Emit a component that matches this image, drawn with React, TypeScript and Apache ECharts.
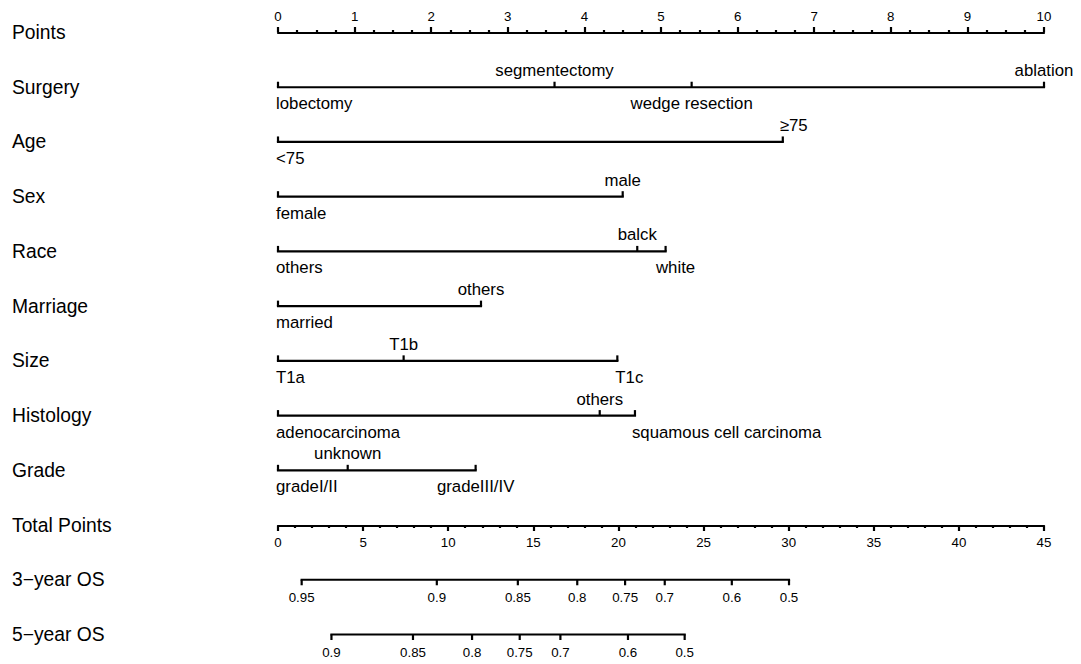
import React, { useEffect, useRef } from "react";
import * as echarts from "echarts";

// ---- data ----
const rowTitles = [
  "Points", "Surgery", "Age", "Sex", "Race", "Marriage", "Size",
  "Histology", "Grade", "Total Points", "3\u2212year OS", "5\u2212year OS",
];

const pointsMax = 10;
const totalPointsMax = 45;

const surgeryLevels = ["lobectomy", "segmentectomy", "wedge resection", "ablation"];
const surgeryPoints = [0, 3.61, 5.4, 10];
const ageLevels = ["<75", "\u226575"];
const agePoints = [0, 6.59];
const sexLevels = ["female", "male"];
const sexPoints = [0, 4.5];
const raceLevels = ["others", "balck", "white"];
const racePoints = [0, 4.69, 5.06];
const marriageLevels = ["married", "others"];
const marriagePoints = [0, 2.65];
const sizeLevels = ["T1a", "T1b", "T1c"];
const sizePoints = [0, 1.64, 4.43];
const histologyLevels = ["adenocarcinoma", "others", "squamous cell carcinoma"];
const histologyPoints = [0, 4.2, 4.66];
const gradeLevels = ["gradeI/II", "unknown", "gradeIII/IV"];
const gradePoints = [0, 0.91, 2.58];

const os3Labels = ["0.95", "0.9", "0.85", "0.8", "0.75", "0.7", "0.6", "0.5"];
const os3TotalPoints = [1.39, 9.33, 14.09, 17.58, 20.39, 22.72, 26.66, 30.02];
const os5Labels = ["0.9", "0.85", "0.8", "0.75", "0.7", "0.6", "0.5"];
const os5TotalPoints = [3.14, 7.93, 11.4, 14.2, 16.59, 20.56, 23.89];

// ---- structure (built from the arrays above) ----
const variables = [
  { row: 1, levels: surgeryLevels, points: surgeryPoints },
  { row: 2, levels: ageLevels, points: agePoints },
  { row: 3, levels: sexLevels, points: sexPoints },
  { row: 4, levels: raceLevels, points: racePoints },
  { row: 5, levels: marriageLevels, points: marriagePoints },
  { row: 6, levels: sizeLevels, points: sizePoints },
  { row: 7, levels: histologyLevels, points: histologyPoints },
  { row: 8, levels: gradeLevels, points: gradePoints },
];
const survivalRows = [
  { row: 10, labels: os3Labels, points: os3TotalPoints },
  { row: 11, labels: os5Labels, points: os5TotalPoints },
];

// ---- styles ----
const FONT = '"Liberation Sans", Arial, Helvetica, sans-serif';
const INK = "#000";
const LW = 2.2;
// label anchoring style: default first label left-aligned, others centered
const labelStyleOverrides: Record<string, { align: string; dx: number }> = {
  "6|T1c": { align: "left", dx: -2 },
  "7|squamous cell carcinoma": { align: "left", dx: -3 },
  "4|white": { align: "center", dx: 10 },
  "2|\u226575": { align: "left", dx: -3 },
};

function labelAnchor(row: number, label: string, i: number) {
  const o = labelStyleOverrides[row + "|" + label];
  if (o) return o;
  if (i === 0) return { align: "left", dx: -2 };
  return { align: "center", dx: 0 };
}

function renderVariable(params: any, api: any) {
  const v = variables[params.dataIndex];
  const lo = api.coord([Math.min(...v.points), v.row]);
  const hi = api.coord([Math.max(...v.points), v.row]);
  const children: any[] = [
    {
      type: "line",
      shape: { x1: lo[0], y1: lo[1], x2: hi[0], y2: hi[1] },
      style: { stroke: INK, lineWidth: LW, lineCap: "square" },
    },
  ];
  v.points.forEach((pt, i) => {
    const c = api.coord([pt, v.row]);
    children.push({
      type: "line",
      shape: { x1: c[0], y1: c[1], x2: c[0], y2: c[1] - 5.5 },
      style: { stroke: INK, lineWidth: LW },
    });
    const above = i % 2 === 1;
    const a = labelAnchor(v.row, v.levels[i], i);
    children.push({
      type: "text",
      x: c[0] + a.dx,
      y: above ? c[1] - 8 : c[1] + 8,
      style: {
        text: v.levels[i],
        fill: INK,
        fontSize: 16.8,
        fontFamily: FONT,
        align: a.align,
        verticalAlign: above ? "bottom" : "top",
      },
    });
  });
  return { type: "group", children };
}

function renderSurvival(params: any, api: any) {
  const s = survivalRows[params.dataIndex];
  const lo = api.coord([Math.min(...s.points), s.row]);
  const hi = api.coord([Math.max(...s.points), s.row]);
  const children: any[] = [
    {
      type: "line",
      shape: { x1: lo[0], y1: lo[1], x2: hi[0], y2: hi[1] },
      style: { stroke: INK, lineWidth: LW, lineCap: "square" },
    },
  ];
  s.points.forEach((pt, i) => {
    const c = api.coord([pt, s.row]);
    children.push({
      type: "line",
      shape: { x1: c[0], y1: c[1], x2: c[0], y2: c[1] + 5.5 },
      style: { stroke: INK, lineWidth: LW },
    });
    children.push({
      type: "text",
      x: c[0],
      y: c[1] + 11.5,
      style: {
        text: s.labels[i],
        fill: INK,
        fontSize: 13.3,
        fontFamily: FONT,
        align: "center",
        verticalAlign: "top",
      },
    });
  });
  return { type: "group", children };
}

const option: any = {
  animation: false,
  backgroundColor: "#fff",
  grid: { left: 278, right: 37, top: 32.5, bottom: 29.5, containLabel: false },
  xAxis: [
    {
      type: "value",
      position: "top",
      min: 0,
      max: pointsMax,
      interval: 1,
      axisLine: { show: true, onZero: false, lineStyle: { color: INK, width: LW } },
      axisTick: { show: true, length: 5.5, lineStyle: { color: INK, width: LW } },
      minorTick: { show: true, splitNumber: 4, length: 2.5, lineStyle: { color: INK, width: LW } },
      axisLabel: { color: INK, fontSize: 13.3, fontFamily: FONT, margin: 9.5 },
      splitLine: { show: false },
      minorSplitLine: { show: false },
    },
    {
      type: "value",
      position: "bottom",
      offset: -109,
      min: 0,
      max: totalPointsMax,
      interval: 5,
      axisLine: { show: true, onZero: false, lineStyle: { color: INK, width: LW } },
      axisTick: { show: true, length: 5.5, lineStyle: { color: INK, width: LW } },
      minorTick: { show: true, splitNumber: 5, length: 2.5, lineStyle: { color: INK, width: LW } },
      axisLabel: { color: INK, fontSize: 13.3, fontFamily: FONT, margin: 10.5 },
      splitLine: { show: false },
      minorSplitLine: { show: false },
    },
  ],
  yAxis: {
    type: "value",
    inverse: true,
    min: 0,
    max: rowTitles.length - 1,
    interval: 1,
    axisLine: { show: false, onZero: false },
    axisTick: { show: false },
    splitLine: { show: false },
    axisLabel: {
      show: true,
      color: INK,
      fontSize: 19.3,
      fontFamily: FONT,
      align: "left",
      margin: 266,
      formatter: (v: number) => rowTitles[Math.round(v)] ?? "",
    },
  },
  series: [
    {
      type: "custom",
      xAxisIndex: 0,
      yAxisIndex: 0,
      clip: false,
      silent: true,
      renderItem: renderVariable,
      data: variables.map((v) => [v.points[0], v.row]),
    },
    {
      type: "custom",
      xAxisIndex: 1,
      yAxisIndex: 0,
      clip: false,
      silent: true,
      renderItem: renderSurvival,
      data: survivalRows.map((s) => [s.points[0], s.row]),
    },
  ],
};

export default function App() {
  const ref = useRef<HTMLDivElement>(null);
  useEffect(() => {
    const chart = echarts.init(ref.current as HTMLDivElement, null, { renderer: "svg" });
    chart.setOption(option);
    return () => chart.dispose();
  }, []);
  return (
    <div
      ref={ref}
      style={{ position: "absolute", left: 0, top: 0, width: 1081, height: 664, background: "#fff" }}
    />
  );
}
